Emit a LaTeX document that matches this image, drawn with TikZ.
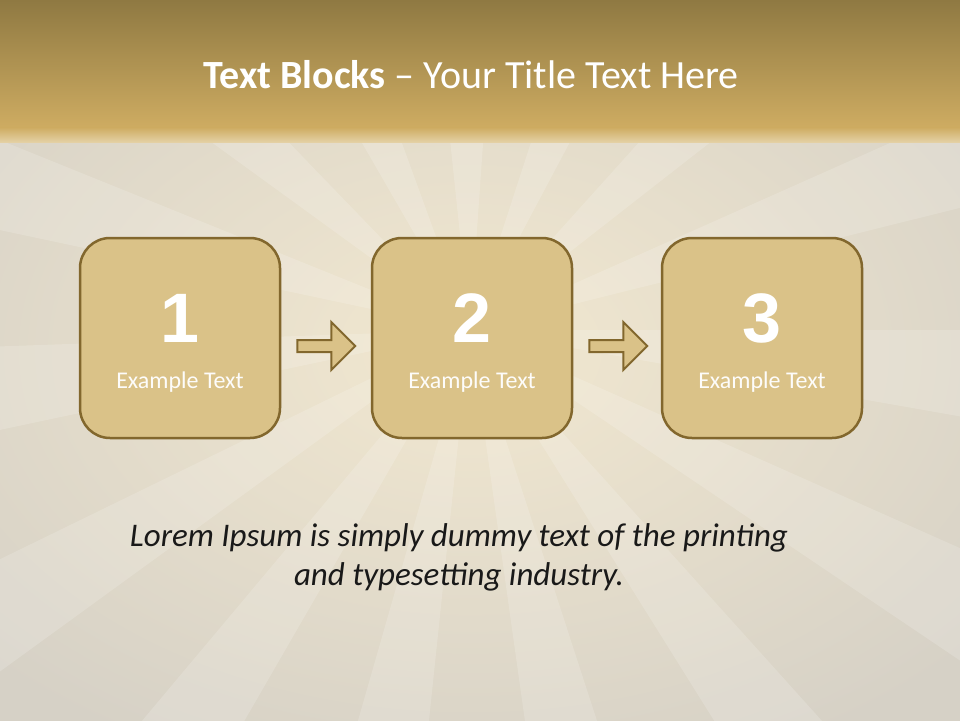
\documentclass[tikz,border=0pt]{standalone}
\usepackage{fontspec}
\setmainfont{Carlito}
\newfontfamily\numfont{Liberation Sans}
\usetikzlibrary{calc}
\definecolor{bandA}{RGB}{143,121,66}
\definecolor{bandB}{RGB}{206,172,98}
\definecolor{bgA}{RGB}{242,232,208}
\definecolor{bgB}{RGB}{214,209,198}
\definecolor{boxfill}{RGB}{218,194,136}
\definecolor{boxline}{RGB}{130,103,45}
\tikzset{
  blk/.style={draw=boxline, fill=boxfill, line width=2.5pt, rounded corners=30pt,
              minimum width=200pt, minimum height=200pt, inner sep=0pt},
  num/.style={text=white, font=\numfont\bfseries\fontsize{70}{70}\selectfont},
  lbl/.style={text=white!96!boxfill, font=\fontsize{24}{24}\selectfont},
  arr/.style={draw=boxline, fill=boxfill, line width=2pt, line join=miter},
  ray/.style={white, opacity=0.16}
}
\begin{document}
\begin{tikzpicture}[x=1pt,y=-1pt]
\useasboundingbox (0,0) rectangle (960,720);
% background
\shade[inner color=bgA, outer color=bgB] (-200,-100) rectangle (1140,800);
\begin{scope}
  \clip (0,125) rectangle (960,720);
  \foreach \a in {0,24,...,336}
    \fill[ray, shift={(470,330)}] (0,0) -- (\a:1300) -- (\a+10:1300) -- cycle;
\end{scope}
% title band
\shade[top color=bandA, bottom color=bandB] (0,0) rectangle (960,128);
\shade[top color=bandB, bottom color=bandB!40!bgA] (0,127.5) rectangle (960,142);
% blocks
\node[blk] (b1) at (180,338) {};
\node[blk] (b2) at (472,338) {};
\node[blk] (b3) at (762,338) {};
\foreach \i in {1,2,3} {
  \node[num] (n\i) at ($(b\i.center)+(0,-20)$) {\i};
  \node[lbl] (l\i) at ($(b\i.center)+(0,44)$) {Example Text};
}
% arrows
\foreach \s in {1,2} {
  \draw[arr, shift={($(b\s.east)+(16,8)$)}]
    (0,-6) -- (34,-6) -- (34,-24) -- (58,0) -- (34,24) -- (34,6) -- (0,6) -- cycle;
}
\node[text=white, font=\fontsize{40}{40}\selectfont] (title) at (471,75)
  {\textbf{Text Blocks} -- Your Title Text Here};
% bottom text
\node[align=center, font=\itshape\fontsize{33}{39}\selectfont, text=black!90] (body) at (459,557)
  {Lorem Ipsum is simply dummy text of the printing\\and typesetting industry.};
\end{tikzpicture}
\end{document}
